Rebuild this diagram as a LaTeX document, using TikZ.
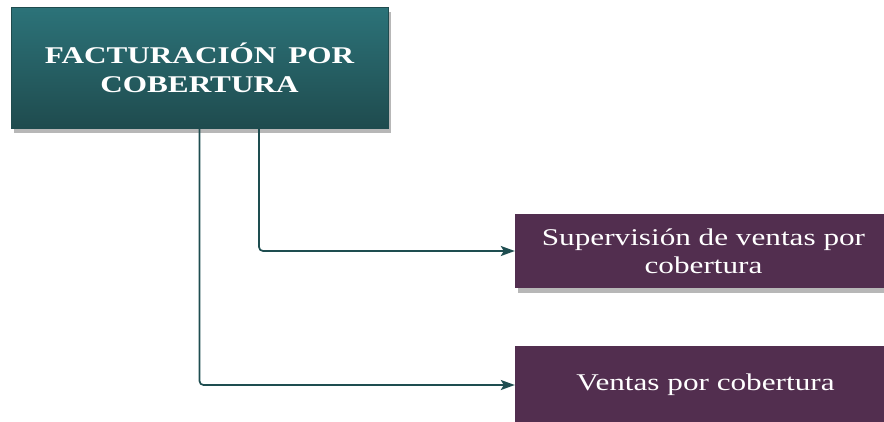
\documentclass[tikz,border=0pt]{standalone}
\usepackage{fontspec}
\newfontfamily\boxfont{Liberation Serif}[FakeStretch=1.3]
\usetikzlibrary{shadows,arrows.meta}
\definecolor{tealtop}{HTML}{2C7379}
\definecolor{tealbot}{HTML}{1F4B4E}
\definecolor{tealline}{HTML}{1E4D50}
\definecolor{plum}{HTML}{522E4F}
\tikzset{
  topbox/.style={draw=tealbot, line width=0.8pt, top color=tealtop, bottom color=tealbot,
    text=white, align=center, inner sep=0pt,
    font=\boxfont\bfseries\fontsize{24}{29}\selectfont,
    drop shadow={shadow xshift=3pt, shadow yshift=-5pt, opacity=0.4, fill=black!70}},
  subbox/.style={fill=plum, draw=none, text=white, align=center, inner sep=0pt,
    font=\boxfont\fontsize{24}{28}\selectfont,
    drop shadow={shadow xshift=3pt, shadow yshift=-5pt, opacity=0.4, fill=black!70}},
  conn/.style={draw=tealline, line width=1.7pt, rounded corners=4pt,
    -{Stealth[length=14pt, width=10pt, inset=3pt]}}
}
\begin{document}
\begin{tikzpicture}[x=1pt,y=-1pt]
\useasboundingbox (0,0) rectangle (884,421);
\fill[white] (0,0) rectangle (884,421);
\node[topbox, minimum width=377pt, minimum height=121pt] (top) at (199.5,67.5)
  {FACTURACIÓN\hspace{4pt} POR\\COBERTURA};
\node[subbox, minimum width=369pt, minimum height=74pt] (sup) at (699.5,251)
  {\hspace{8pt}Supervisión de ventas por\\\hspace{8pt}cobertura};
\node[subbox, minimum width=369pt, minimum height=78pt] (ven) at (699.5,385)
  {\hspace{12pt}Ventas por cobertura};
\draw[conn] ([xshift=59.5pt]top.south) |- (sup.west);
\draw[conn] (top.south) |- (ven.west);
\end{tikzpicture}
\end{document}
